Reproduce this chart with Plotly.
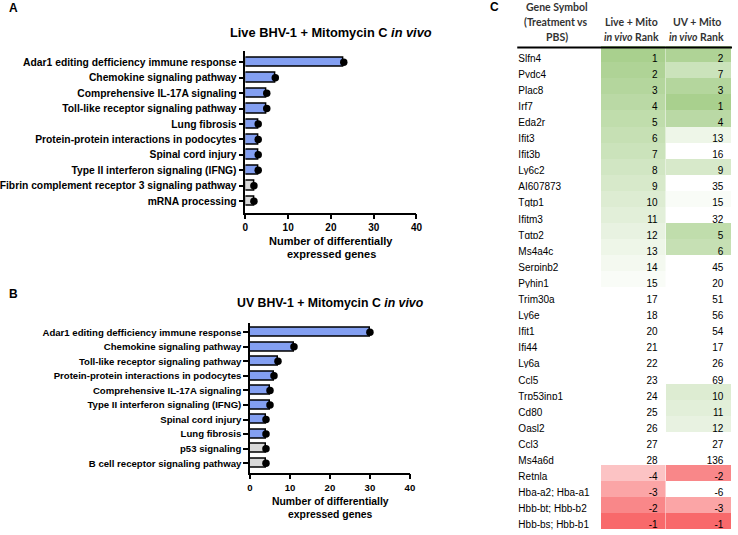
import plotly.graph_objects as go

W, H = 738, 535

# panel A data
live_paths = ['Adar1 editing defficiency immune response', 'Chemokine signaling pathway',
              'Comprehensive IL-17A signaling', 'Toll-like receptor signaling pathway',
              'Lung fibrosis', 'Protein-protein interactions in podocytes',
              'Spinal cord injury', 'Type II interferon signaling (IFNG)',
              'Fibrin complement receptor 3 signaling pathway', 'mRNA processing']
live_genes = [23, 7, 5, 5, 3, 3, 3, 3, 2, 2]
live_sig = [1, 1, 1, 1, 1, 1, 1, 1, 0, 0]

# panel B data
uv_paths = ['Adar1 editing defficiency immune response', 'Chemokine signaling pathway',
            'Toll-like receptor signaling pathway', 'Protein-protein interactions in podocytes',
            'Comprehensive IL-17A signaling', 'Type II interferon signaling (IFNG)',
            'Spinal cord injury', 'Lung fibrosis', 'p53 signaling',
            'B cell receptor signaling pathway']
uv_genes = [30, 11, 7, 6, 5, 5, 4, 4, 4, 4]
uv_sig = [1, 1, 1, 1, 1, 1, 1, 1, 0, 0]

# panel C data
genes = ['Slfn4', 'Pydc4', 'Plac8', 'Irf7', 'Eda2r', 'Ifit3', 'Ifit3b', 'Ly6c2', 'AI607873',
         'Tgtp1', 'Ifitm3', 'Tgtp2', 'Ms4a4c', 'Serpinb2', 'Pyhin1', 'Trim30a', 'Ly6e',
         'Ifit1', 'Ifi44', 'Ly6a', 'Ccl5', 'Trp53inp1', 'Cd80', 'Oasl2', 'Ccl3', 'Ms4a6d',
         'Retnla', 'Hba-a2; Hba-a1', 'Hbb-bt; Hbb-b2', 'Hbb-bs; Hbb-b1']
live_rank = [1, 2, 3, 4, 5, 6, 7, 8, 9, 10, 11, 12, 13, 14, 15, 17, 18, 20, 21, 22, 23,
             24, 25, 26, 27, 28, -4, -3, -2, -1]
uv_rank = [2, 7, 3, 1, 4, 13, 16, 9, 35, 15, 32, 5, 6, 45, 20, 51, 56, 54, 17, 26, 69,
           10, 11, 12, 27, 136, -2, -6, -3, -1]

BLUE = '#839ff1'
GREY = '#d9d9d9'
TXT = 'Liberation Sans'


def px(x):
    return x / W


def py(y):
    return 1 - y / H


def rank_color(r):
    if r > 0:
        t = max(0.0, (16 - r) / 15)
        c = (169, 208, 142)
    else:
        t = max(0.0, (r + 6) / 5)
        c = (248, 105, 107)
    rgb = [round(255 - t * (255 - v)) for v in c]
    return 'rgb(%d,%d,%d)' % tuple(rgb)


def bold(size):
    return dict(family=TXT, size=size, color='black', weight='bold')


fig = go.Figure()

panels = [
    (live_paths, live_genes, live_sig, 'x', 'y'),
    (uv_paths, uv_genes, uv_sig, 'x2', 'y2'),
]
for paths, vals, sig, xa, ya in panels:
    fig.add_trace(go.Bar(
        x=vals, y=paths, orientation='h', width=0.62,
        marker=dict(color=[BLUE if s else GREY for s in sig],
                    line=dict(color='black', width=1.5)),
        xaxis=xa, yaxis=ya, showlegend=False, hoverinfo='x+y'))
    fig.add_trace(go.Scatter(
        x=vals, y=paths, mode='markers',
        marker=dict(color='black', size=7.5),
        xaxis=xa, yaxis=ya, showlegend=False, cliponaxis=False))


def xax(size):
    return dict(range=[0, 40], tickvals=[0, 10, 20, 30, 40], showgrid=False, zeroline=False,
                showline=True, linecolor='black', linewidth=1.5, ticks='outside',
                ticklen=5, tickwidth=1.5, tickcolor='black', tickfont=bold(size))


def yax(size):
    return dict(type='category', showgrid=False, zeroline=False, showline=True,
                linecolor='black', linewidth=1.5, ticks='outside', ticklen=5,
                tickwidth=1.5, tickcolor='black', tickfont=bold(size))


fig.update_layout(
    width=W, height=H,
    margin=dict(l=0, r=0, t=0, b=0),
    paper_bgcolor='white', plot_bgcolor='white',
    xaxis=dict(domain=[px(244), px(417.7)], anchor='y', **xax(10)),
    yaxis=dict(domain=[py(212.7), py(50.7)], anchor='x', range=[9.75, -0.75], **yax(10.3)),
    xaxis2=dict(domain=[px(248.7), px(411)], anchor='y2', **xax(9.6)),
    yaxis2=dict(domain=[py(472.7), py(322.7)], anchor='x2', range=[9.65, -0.65], **yax(9.6)),
    bargap=0,
)

# table C
cell_colors = [['white'] * len(genes),
               [rank_color(r) for r in live_rank],
               [rank_color(r) for r in uv_rank]]
fig.add_trace(go.Table(
    domain=dict(x=[px(513), 1], y=[0, 1]),
    columnwidth=[92, 66, 67],
    header=dict(values=['', '', ''], height=46,
                fill_color='white', line=dict(width=0, color='white'),
                font=dict(family=TXT, size=6, color='white')),
    cells=dict(values=[genes, live_rank, uv_rank],
               align=['left', 'right', 'right'], height=16.1,
               fill_color=cell_colors, line=dict(width=0, color='white'),
               font=dict(family=TXT, size=10, color='black')),
))

fig.add_shape(type='line', xref='paper', yref='paper', x0=px(520), x1=1,
              y0=py(47.5), y1=py(47.5), line=dict(color='black', width=2), layer='above')

hdr = dict(family='Lato', size=10.5, color='#333333', weight='bold')
header_lines = [
    ('Gene Symbol', 560, 7), ('(Treatment vs', 559, 22), ('PBS)', 560, 37.5),
    ('Live + Mito', 636, 22), ('<i>in vivo</i> Rank', 636, 37.5),
    ('UV + Mito', 702, 22), ('<i>in vivo</i> Rank', 702, 37.5),
]
for txt, x, y in header_lines:
    fig.add_annotation(text=txt, x=px(x), y=py(y), xref='paper', yref='paper',
                       showarrow=False, xanchor='center', yanchor='middle', font=hdr)

titles = [
    ('Live BHV-1 + Mitomycin C <i>in vivo</i>', 331, 32, 12.8),
    ('UV BHV-1 + Mitomycin C <i>in vivo</i>', 330, 303, 12.3),
]
for txt, x, y, s in titles:
    fig.add_annotation(text=txt, x=px(x), y=py(y), xref='paper', yref='paper',
                       showarrow=False, xanchor='center', yanchor='middle', font=bold(s))

axis_titles = [
    ('Number of differentially', 331, 241.5, 11), ('expressed genes', 331, 253.5, 11),
    ('Number of differentially', 330, 501, 10.4), ('expressed genes', 330, 514, 10.4),
]
for txt, x, y, s in axis_titles:
    fig.add_annotation(text=txt, x=px(x), y=py(y), xref='paper', yref='paper',
                       showarrow=False, xanchor='center', yanchor='middle', font=bold(s))

for lab, x, y in [('A', 2, 8), ('B', 2, 294), ('C', 490, 7)]:
    fig.add_annotation(text=lab, x=px(x), y=py(y), xref='paper', yref='paper',
                       showarrow=False, xanchor='left', yanchor='middle', font=bold(12))

# drop the default 8px page margin so the figure fills the window exactly
fig.write_html('out.html', config={'displayModeBar': False},
               post_script="document.body.style.margin = '0';")
